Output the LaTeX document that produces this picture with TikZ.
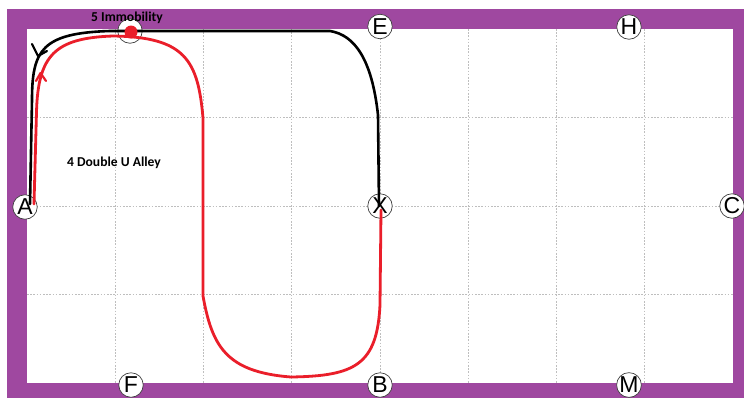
\documentclass[tikz,border=0pt]{standalone}
\usepackage{fontspec}
\setmainfont{Liberation Sans}
\newfontfamily\labfont{Carlito}
\definecolor{arenapurple}{RGB}{159,72,160}
\definecolor{pathred}{RGB}{234,30,42}
\definecolor{gridgray}{RGB}{190,190,190}
\begin{document}
\begin{tikzpicture}[x=1pt,y=-1pt,
  letter/.style={circle,draw=black!75,line width=0.7pt,fill=white,minimum size=24.5pt,inner sep=0pt,font=\fontsize{23}{23}\selectfont},
  gridline/.style={gridgray,line width=0.8pt,dash pattern=on 1.6pt off 1.6pt},
  blackpath/.style={black,line width=2.6pt,line join=round,line cap=round},
  redpath/.style={pathred,line width=2.8pt,line join=round,line cap=round},
  lab/.style={font=\labfont\bfseries\fontsize{13.6}{14}\selectfont,inner sep=0pt}]
\useasboundingbox (0,0) rectangle (744,400);
\fill[white] (0,0) rectangle (744,400);
% arena frame
\fill[arenapurple] (7,9) rectangle (744,398);
\fill[white] (27,29) rectangle (733,383);
% grid
\foreach \gx in {115.25,203.5,291.75,380,468.25,556.5,644.75}
  \draw[gridline] (\gx,29) -- (\gx,383);
\foreach \gy in {117.5,206,294.5}
  \draw[gridline] (27,\gy) -- (733,\gy);
% letter markers
\node[letter] (A) at (25,207) {A};
\node[letter] (E) at (380,26.5) {E};
\node[letter] (H) at (629,27) {H};
\node[letter] (C) at (732,206) {C};
\node[letter] (M) at (629,385) {M};
\node[letter] (B) at (380,385) {B};
\node[letter] (F) at (131,385) {F};
\node[letter] (X) at (380,206) {X};
\node[letter] (K) at (130,31) {};
% path end points
\coordinate (bstart) at (379,206);
\coordinate (bend) at (30,204);
\coordinate (rstart) at (34,204);
\coordinate (rend) at (381,210);
% black route: X -> top -> A
\draw[blackpath] (bstart) -- (378,115) .. controls (372,60) and (355,35) .. (330,31)
  -- (110,31) .. controls (42,33) and (32,50) .. (32,100) -- (bend);
% red route: A -> top -> down -> bottom -> X
\draw[redpath] (rstart) -- (36.5,112) .. controls (38,55) and (55,38) .. (113,36)
  .. controls (185,37) and (198,60) .. (203,118) -- (203,296)
  .. controls (212,345) and (225,372) .. (291,377)
  .. controls (355,376) and (377,365) .. (380,305) -- (rend);
% direction chevrons
\coordinate (bchev) at (38,56);
\draw[blackpath,line width=2.2pt] (32,44) -- (bchev) -- (47,51);
\coordinate (rchev) at (40.5,73);
\draw[redpath,line width=2.2pt] (36,81) -- (rchev) -- (46,81);
% red dot
\fill[pathred] (131,32) circle (6.5);
% labels
\node[lab] (immob) at (127,18) {5 Immobility};
\node[lab] (alley) at (114,163) {4 Double U Alley};
\end{tikzpicture}
\end{document}
